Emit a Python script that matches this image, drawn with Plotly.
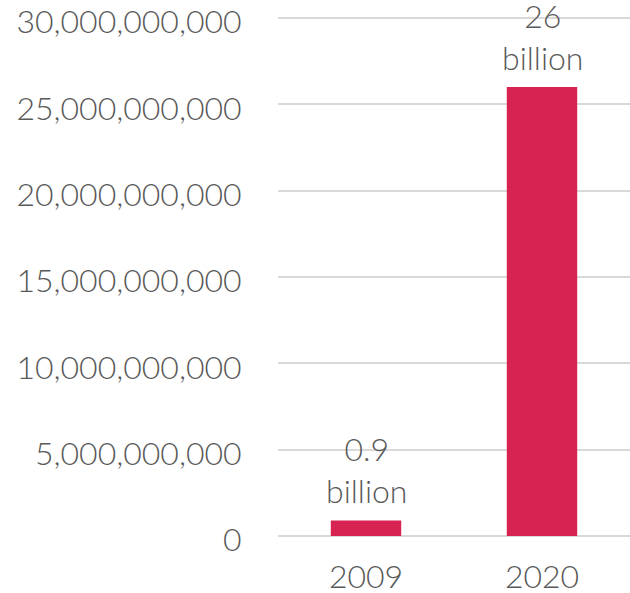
import plotly.graph_objects as go

years = ["2009", "2020"]
values = [0.9e9, 26e9]
labels = ["0.9<br>billion", "26<br>billion"]
tick_vals = [0, 5e9, 10e9, 15e9, 20e9, 25e9, 30e9]
tick_text = ["0", "5,000,000,000", "10,000,000,000", "15,000,000,000",
             "20,000,000,000", "25,000,000,000", "30,000,000,000"]

FONT = "Lato"
GRAY = "#595959"
FS = 32

fig = go.Figure(go.Bar(
    x=years, y=values,
    marker=dict(color="#D62352", line=dict(width=0)),
    cliponaxis=False,
))
for i, (v, lab) in enumerate(zip(values, labels)):
    fig.add_annotation(x=i, y=v, text=lab, showarrow=False,
                       yanchor="bottom", yshift=8,
                       font=dict(family=FONT, size=FS, color=GRAY, weight=300))

fig.update_layout(
    width=630, height=593,
    margin=dict(l=278, r=0, t=17, b=57, autoexpand=False),
    paper_bgcolor="white", plot_bgcolor="white",
    bargap=0.6, showlegend=False,
    font=dict(family=FONT, size=FS, color=GRAY, weight=300),
)
fig.update_yaxes(
    range=[0, 30.06e9], tickvals=tick_vals, ticktext=tick_text,
    showgrid=True, gridcolor="#D9D9D9", gridwidth=2,
    zeroline=True, zerolinecolor="#D9D9D9", zerolinewidth=2,
    showline=False, ticks="outside", ticklen=29, tickcolor="rgba(0,0,0,0)",
    ticklabeloverflow="allow", ticklabelshift=4,
    tickfont=dict(family=FONT, size=FS, color=GRAY, weight=300), automargin=False,
)
fig.update_xaxes(
    type="category", range=[-0.5, 1.5],
    showline=False, ticks="outside", ticklen=13, tickcolor="rgba(0,0,0,0)",
    ticklabeloverflow="allow",
    tickfont=dict(family=FONT, size=FS, color=GRAY, weight=300), automargin=False,
)
fig.write_html("out.html")
